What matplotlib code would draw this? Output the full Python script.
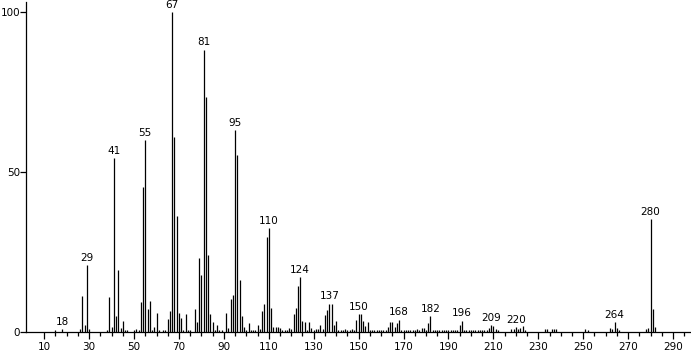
import numpy as np
import matplotlib
matplotlib.use('Agg')
import matplotlib.pyplot as plt

# m/z values and relative intensities
mz = [15, 18, 26, 27, 28, 29, 30, 38, 39, 40, 41, 42, 43, 44, 45, 46, 47,
      50, 51, 52, 53, 54, 55, 56, 57, 58, 59, 60, 61, 63, 64, 65, 66, 67, 68,
      69, 70, 71, 72, 73, 74, 75, 77, 78, 79, 80, 81, 82, 83, 84, 85, 86, 87,
      88, 89, 91, 92, 93, 94, 95, 96, 97, 98, 99, 100, 101, 102, 103, 104,
      105, 106, 107, 108, 109, 110, 111, 112, 113, 114, 115, 116, 117, 118,
      119, 120, 121, 122, 123, 124, 125, 126, 127, 128, 129, 130, 131, 132,
      133, 134, 135, 136, 137, 138, 139, 140, 141, 142, 143, 144, 145, 146,
      147, 148, 149, 150, 151, 152, 153, 154, 155, 156, 157, 158, 159, 160,
      161, 162, 163, 164, 165, 166, 167, 168, 169, 170, 171, 172, 173, 174,
      175, 176, 177, 178, 179, 180, 181, 182, 183, 184, 185, 186, 187, 188,
      189, 190, 191, 192, 193, 194, 195, 196, 197, 198, 199, 200, 201, 202,
      203, 204, 205, 206, 207, 208, 209, 210, 211, 212, 218, 219, 220, 221,
      222, 223, 224, 233, 234, 236, 237, 238, 251, 252, 262, 263, 264, 265,
      266, 278, 279, 280, 281, 282]
intensity = [0.6, 0.8, 1.0, 11.1, 2.3, 21.0, 1.0, 0.6, 10.8, 1.6, 54.4, 5.1,
             19.5, 1.2, 3.5, 0.7, 0.7,
             0.7, 1.0, 0.7, 9.3, 45.2, 59.8, 7.3, 9.6, 0.7, 1.6, 6.1, 0.7,
             0.7, 0.7, 4.2, 6.7, 100.0, 60.8,
             36.1, 5.9, 4.4, 0.7, 5.5, 0.7, 0.7, 7.3, 3.0, 23.0, 17.9, 88.2,
             73.5, 23.9, 5.7, 3.2, 0.7, 2.3,
             0.7, 0.7, 6.1, 1.2, 10.4, 11.7, 63.2, 55.2, 16.4, 5.1, 1.6, 0.7,
             2.8, 0.7, 0.7, 0.7,
             2.3, 0.9, 6.5, 8.9, 29.8, 32.6, 7.5, 1.6, 1.6, 1.6, 1.2, 0.7,
             0.7, 0.7,
             1.2, 0.9, 5.7, 7.6, 14.3, 17.1, 3.5, 3.0, 0.7, 3.0, 1.2, 0.7,
             0.9, 0.9,
             2.3, 0.9, 5.2, 7.0, 8.9, 8.9, 2.3, 3.5, 0.7, 0.7, 0.7, 0.8, 0.7,
             0.7,
             0.8, 0.7, 3.9, 5.7, 5.7, 3.5, 2.0, 3.1, 0.7, 0.6, 0.7, 0.7, 0.6,
             0.7,
             0.7, 0.6, 1.6, 3.0, 3.0, 1.6, 2.8, 3.9, 0.6, 0.7, 0.6, 0.6, 0.7,
             0.6,
             0.6, 0.8, 0.6, 1.2, 1.2, 0.6, 2.8, 5.1, 0.6, 0.7, 0.6, 0.6, 0.7,
             0.6,
             0.6, 0.7, 0.6, 0.6, 0.7, 0.6, 2.3, 3.6, 0.6, 0.7, 0.6, 0.6, 0.7,
             0.6,
             0.6, 0.7, 0.6, 0.6, 0.7, 1.2, 2.3, 2.0, 0.8, 0.6, 0.8, 1.0, 1.6,
             0.8,
             1.2, 1.8, 0.6, 1.0, 0.8, 0.8, 1.0, 0.8, 0.8, 0.6, 1.2, 0.8, 3.0,
             1.2,
             0.6, 0.8, 1.2, 35.4, 7.3, 1.6]

# labelled peaks
label_mz = [18, 29, 41, 55, 67, 81, 95, 110, 124, 137, 150, 168, 182, 196,
            209, 220, 264, 280]

fig = plt.figure(figsize=(6.91, 3.51), dpi=100)
ax = fig.add_axes([0.038, 0.054, 0.962, 0.94])

ax.vlines(mz, 0, intensity, colors='black', linewidth=0.9)

peaks = dict(zip(mz, intensity))
for m in label_mz:
    # labels sit over the tallest bar close by
    h = max(peaks.get(k, 0) for k in range(m - 1, m + 2))
    ax.annotate(str(m), (m, h), xytext=(0, 1.5), textcoords='offset points',
                ha='center', va='bottom', fontsize=7.5, clip_on=False,
                annotation_clip=False)

ax.set_xlim(2, 298)
ax.set_ylim(0, 103)

ax.set_xticks(np.arange(10, 300, 20))
ax.set_xticks(np.arange(10, 300, 5), minor=True)
ax.set_yticks([0, 50, 100])
ax.tick_params(axis='x', which='major', length=5, width=0.9, labelsize=7.5,
               pad=2, direction='out')
ax.tick_params(axis='x', which='minor', length=3, width=0.9, direction='out')
ax.tick_params(axis='y', length=4, width=0.9, labelsize=7.5, pad=0.5)

ax.spines['top'].set_visible(False)
ax.spines['right'].set_visible(False)
ax.spines['left'].set_linewidth(0.9)
ax.spines['bottom'].set_linewidth(0.9)

fig.savefig('out.png', dpi=100)
